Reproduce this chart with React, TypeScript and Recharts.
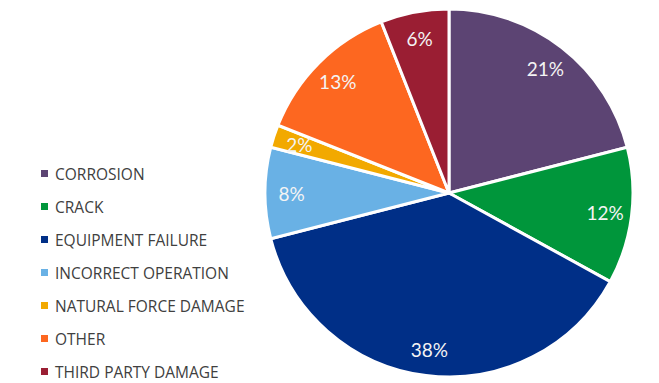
import { PieChart, Pie, Cell } from "recharts";

const causes = [
  "CORROSION",
  "CRACK",
  "EQUIPMENT FAILURE",
  "INCORRECT OPERATION",
  "NATURAL FORCE DAMAGE",
  "OTHER",
  "THIRD PARTY DAMAGE",
];
const shares = [21, 12, 38, 8, 2, 13, 6];
const colors = ["#5c4473", "#00963b", "#002f87", "#69b1e5", "#f2a900", "#fd6720", "#9a1e33"];

const data = causes.map((name, i) => ({ name, value: shares[i] }));

const RADIAN = Math.PI / 180;
const FONT = "Lato, 'Open Sans', sans-serif";

function renderLabel(props: any) {
  const { cx, cy, midAngle, outerRadius, value } = props;
  const r = outerRadius * 0.855;
  const x = cx + r * Math.cos(-midAngle * RADIAN);
  const y = cy + r * Math.sin(-midAngle * RADIAN);
  return (
    <text x={x} y={y} fill="#f4f4f4" textAnchor="middle" dominantBaseline="central" fontSize={19} fontFamily={FONT}>
      {`${value}%`}
    </text>
  );
}

function LegendList() {
  return (
    <ul style={{ position: "absolute", left: 41, top: 157, listStyle: "none", margin: 0, padding: 0, fontFamily: "'Open Sans', sans-serif" }}>
      {causes.map((c, i) => (
        <li key={c} style={{ display: "flex", alignItems: "center", height: 33, lineHeight: "20px", fontSize: 15.5, color: "#404040", whiteSpace: "nowrap" }}>
          <span style={{ width: 7, height: 7, background: colors[i], marginRight: 7, display: "inline-block" }} />
          {c}
        </li>
      ))}
    </ul>
  );
}

export default function App() {
  return (
    <div style={{ position: "relative", width: 659, height: 383, background: "#fff" }}>
      <style>{`body{margin:0}`}</style>
      <PieChart width={659} height={383} margin={{ top: 0, right: 0, bottom: 0, left: 0 }}>
        <Pie
          data={data}
          dataKey="value"
          nameKey="name"
          cx={449}
          cy={193}
          outerRadius={184}
          startAngle={90}
          endAngle={-270}
          stroke="#ffffff"
          strokeWidth={3}
          label={renderLabel}
          labelLine={false}
          isAnimationActive={false}
        >
          {data.map((d, i) => (
            <Cell key={d.name} fill={colors[i]} />
          ))}
        </Pie>
      </PieChart>
      <LegendList />
    </div>
  );
}
